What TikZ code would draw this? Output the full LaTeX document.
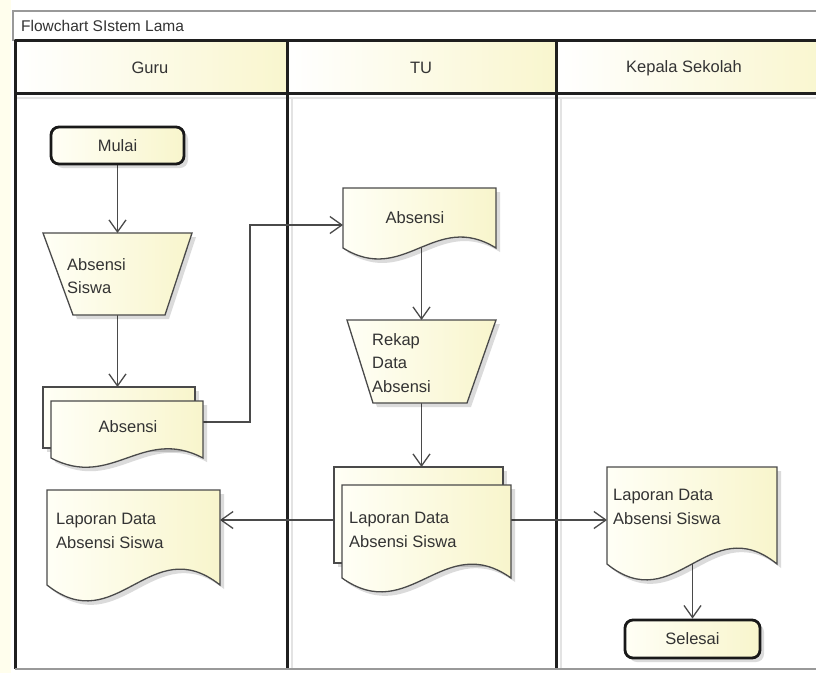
\documentclass[tikz,border=0pt]{standalone}
\usepackage{fontspec}
\setmainfont{Liberation Sans}
\usetikzlibrary{arrows.meta,shadows,calc}
\pgfdeclarelayer{lanes}\pgfdeclarelayer{lines}\pgfdeclarelayer{shapes}
\pgfsetlayers{lanes,lines,shapes,main}
\definecolor{fillL}{HTML}{FFFFF6}
\definecolor{fillR}{HTML}{F8F5CC}
\definecolor{hdrR}{HTML}{F9F6CE}
\definecolor{ink}{HTML}{333333}
\definecolor{edgec}{HTML}{4A4A4A}
\tikzset{
  box/.style={inner sep=0pt,outer sep=0pt,draw=none},
  shapefill/.style={draw=edgec,line width=1.3pt,left color=fillL,right color=fillR,
    drop shadow={shadow xshift=4pt,shadow yshift=-4pt,fill=black,opacity=0.14}},
  term/.style={rounded corners=8pt,draw=black!90,line width=2.8pt,left color=fillL,right color=fillR,
    minimum width=133pt,minimum height=37pt,text=ink,inner sep=0pt,
    drop shadow={shadow xshift=4pt,shadow yshift=-4pt,fill=black,opacity=0.14}},
  txt/.style={inner sep=0pt,align=left,text=ink},
  arr/.style={draw=edgec,line width=1.3pt,-{Straight Barb[length=12pt,width=17pt]}},
  lane/.style={draw=black!88,line width=3pt},
}
\newcommand\docshape[2]{%
  \path[shapefill] let \p1=(#1.south west), \p2=(#1.south east) in
    (#1.north west) -- (#1.north east) -- (\p2)
    .. controls ({\x1+0.6*(\x2-\x1)},{\y1+#2pt}) and ({\x1+0.4*(\x2-\x1)},{\y1-#2pt}) .. (\p1) -- cycle;}
\newcommand\trapshape[3]{%
  \path[shapefill] (#1.north west) -- (#1.north east) -- ([xshift=-#3pt]#1.south east)
    -- ([xshift=#2pt]#1.south west) -- cycle;}
\begin{document}
\begin{tikzpicture}[x=1pt,y=-1pt,font=\fontsize{16.5}{23.5}\selectfont]
\useasboundingbox (0,0) rectangle (816,673);

% ---------- nodes (boxes and texts) ----------
\node[term] (mulai) at (117.5,145.5) {Mulai};
\node[box,minimum width=149pt,minimum height=82pt] (absS) at (117.5,274) {};
\node[box,minimum width=152pt,minimum height=61pt] (absGb) at (119,417.5) {};
\node[box,minimum width=152pt,minimum height=57pt] (absGf) at (127,429.5) {};
\node[box,minimum width=173pt,minimum height=95pt] (lapG) at (133.5,537.5) {};
\node[box,minimum width=153pt,minimum height=60pt] (absT) at (419.5,218) {};
\node[box,minimum width=149pt,minimum height=83pt] (rekap) at (421.5,361.5) {};
\node[box,minimum width=169pt,minimum height=96pt] (lapTb) at (418.5,515) {};
\node[box,minimum width=169pt,minimum height=93pt] (lapTf) at (426.5,531.5) {};
\node[box,minimum width=170pt,minimum height=97pt] (lapK) at (692,515.5) {};
\node[term,minimum width=135pt,minimum height=38pt] (selesai) at (692.5,639) {Selesai};

\node[txt,anchor=west] (absSt) at (67,276) {Absensi\\Siswa};
\node[txt] (absGt) at (128,427) {Absensi};
\node[txt,anchor=west] (lapGt) at (56,531) {Laporan Data\\Absensi Siswa};
\node[txt] (absTt) at (415,218) {Absensi};
\node[txt,anchor=west] (rekapt) at (372,363) {Rekap\\Data\\Absensi};
\node[txt,anchor=west] (lapTt) at (349,530) {Laporan Data\\Absensi Siswa};
\node[txt,anchor=west] (lapKt) at (613,507) {Laporan Data\\Absensi Siswa};

\node[txt,anchor=west,font=\fontsize{15.5}{18}\selectfont] (title) at (21,26) {Flowchart SIstem Lama};
\node[txt] (hGuru) at (150,68) {Guru};
\node[txt] (hTU) at (421,68) {TU};
\node[txt] (hKepala) at (684,68) {Kepala Sekolah};

% ---------- shapes ----------
\begin{pgfonlayer}{shapes}
  \trapshape{absS}{30}{27}
  \path[shapefill] (absGb.north west) rectangle (absGb.south east);
  \docshape{absGf}{32}
  \docshape{lapG}{55}
  \docshape{absT}{38}
  \trapshape{rekap}{26}{29}
  \path[shapefill] (lapTb.north west) rectangle (lapTb.south east);
  \docshape{lapTf}{48}
  \docshape{lapK}{55}
\end{pgfonlayer}

% ---------- connectors ----------
\begin{pgfonlayer}{lines}
  \draw[arr] (mulai.south) -- (absS.north);
  \draw[arr] (absS.south) -- (absS.south |- absGb.north);
  \draw[arr] ([yshift=7.5pt]absGf.east) -- ++(47,0) |- ([yshift=-7pt]absT.west);
  \draw[arr] (rekap.north |- absT.south) -- (rekap.north);
  \draw[arr] (rekap.south) -- (rekap.south |- lapTb.north);
  \draw[arr] ([yshift=-5pt]lapTb.west) coordinate (pL) -- (lapG.east |- pL);
  \draw[arr] (lapTf.east |- pL) -- (lapK.west |- pL);
  \draw[arr] (selesai.north |- lapK.south) -- (selesai.north);
\end{pgfonlayer}

% ---------- swimlanes ----------
\begin{pgfonlayer}{lanes}
  \fill[white] (0,0) rectangle (816,673);
  \fill[yellow!7] (0,0) rectangle (11,673);
  \draw[gray!80,line width=1.2pt] (13,11) rectangle (830,40);
  \path[left color=white,right color=hdrR] (15,40) rectangle (287,93);
  \path[left color=white,right color=hdrR] (287,40) rectangle (556,93);
  \path[left color=white,right color=hdrR] (556,40) rectangle (830,93);
  \draw[gray!22,line width=2pt] (15,98) -- (830,98) (292,98) -- (292,669) (561,98) -- (561,669);
  \draw[lane] (15,40) -- (830,40) (15,93) -- (830,93);
  \draw[lane] (15,40) -- (15,669) (287,40) -- (287,669) (556,40) -- (556,669);
  \draw[gray!80,line width=1.2pt] (15,669) -- (830,669);
\end{pgfonlayer}
\end{tikzpicture}
\end{document}
